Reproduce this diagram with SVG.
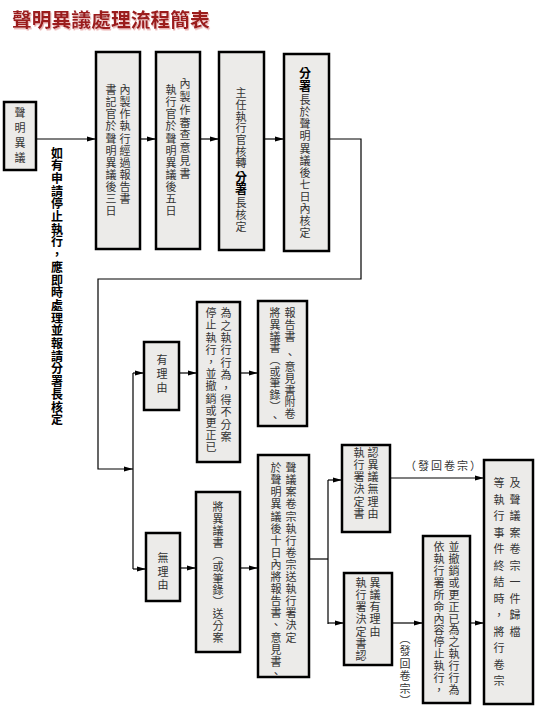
<svg xmlns="http://www.w3.org/2000/svg" width="541" height="714" viewBox="0 0 541 714">
<style>
.box{fill:#ecebe9;stroke:#000;stroke-width:2.5}
.t{font-family:"Noto Sans CJK TC","Noto Sans CJK SC",sans-serif;font-size:11px;fill:#333;writing-mode:vertical-rl;letter-spacing:1.1px}
.b{font-weight:bold;fill:#000}
.ln{fill:none;stroke:#000;stroke-width:1.2}
.h{font-family:"Noto Sans CJK TC","Noto Sans CJK SC",sans-serif;font-size:11px;fill:#333}
</style>
<defs>
<marker id="ar" markerWidth="9" markerHeight="6" refX="9" refY="3" orient="auto" markerUnits="userSpaceOnUse">
<path d="M0,0.5 L9,3 L0,5.5 Z" fill="#000"/>
</marker>
<filter id="sh" x="-5%" y="-20%" width="110%" height="150%">
<feDropShadow dx="1" dy="1.5" stdDeviation="0.4" flood-color="#e9a8a8" flood-opacity="0.9"/>
</filter>
</defs>
<rect width="541" height="714" fill="#fff"/>
<text x="12" y="27" font-family="'Noto Sans CJK TC','Noto Sans CJK SC',sans-serif" font-size="19.8" font-weight="bold" fill="#9b1b1f" filter="url(#sh)">聲明異議處理流程簡表</text>

<g id="connectors">
<line class="ln" x1="36" y1="139" x2="96" y2="139" marker-end="url(#ar)"/>
<line class="ln" x1="140" y1="139" x2="156" y2="139" marker-end="url(#ar)"/>
<line class="ln" x1="200" y1="139" x2="219" y2="139" marker-end="url(#ar)"/>
<line class="ln" x1="264" y1="139" x2="284" y2="139" marker-end="url(#ar)"/>
<polyline class="ln" points="329,139 361,139 361,279 98,279 98,469 133,469" marker-end="url(#ar)"/>
<line class="ln" x1="133" y1="373" x2="133" y2="569"/>
<line class="ln" x1="133" y1="373" x2="144" y2="373" marker-end="url(#ar)"/>
<line class="ln" x1="133" y1="569" x2="146" y2="569" marker-end="url(#ar)"/>
<line class="ln" x1="179" y1="373" x2="197" y2="373" marker-end="url(#ar)"/>
<line class="ln" x1="240" y1="373" x2="258" y2="373" marker-end="url(#ar)"/>
<line class="ln" x1="180" y1="568" x2="196" y2="568" marker-end="url(#ar)"/>
<line class="ln" x1="240" y1="568" x2="258" y2="568" marker-end="url(#ar)"/>
<polyline class="ln" points="309,559 328,559"/>
<line class="ln" x1="328" y1="480" x2="328" y2="624"/>
<line class="ln" x1="328" y1="480" x2="342" y2="480" marker-end="url(#ar)"/>
<line class="ln" x1="328" y1="623" x2="344" y2="623" marker-end="url(#ar)"/>
<line class="ln" x1="390" y1="478" x2="484" y2="478" marker-end="url(#ar)"/>
<line class="ln" x1="392" y1="623" x2="423" y2="623" marker-end="url(#ar)"/>
<line class="ln" x1="470" y1="623" x2="484" y2="623" marker-end="url(#ar)"/>
<text class="h" x="444" y="470" text-anchor="middle" letter-spacing="2">（發回卷宗）</text>
<text class="t" x="405" y="633" style="letter-spacing:1.5px">（發回卷宗）</text>
</g>

<g id="n-start">
<rect class="box" x="4" y="102" width="32" height="68"/>
<text class="t" x="20" y="107.5" style="letter-spacing:4px">聲明異議</text>
</g>
<text class="t b" x="57" y="147 159.7 172.4 185.1 197.8 210.5 223.2 235.9 248.6 261.3 274 286.7 299.4 312.1 324.8 337.5 350.2 362.9 375.6 388.3 401 413.7" style="font-size:12px;letter-spacing:0">如有申請停止執行，應即時處理並報請分署長核定</text>

<g id="n-report">
<rect class="box" x="96" y="52" width="44" height="197"/>
<text class="t" x="125" y="84.5">內製作執行經過報告書</text>
<text class="t" x="111" y="84.5">書記官於聲明異議後三日</text>
</g>
<g id="n-opinion">
<rect class="box" x="156" y="52" width="44" height="197"/>
<text class="t" x="185" y="78.5" style="letter-spacing:1.8px">內製作審查意見書</text>
<text class="t" x="171" y="84.5">執行官於聲明異議後五日</text>
</g>
<g id="n-chief">
<rect class="box" x="219" y="52" width="45" height="198"/>
<text class="t" x="241" y="87.5" style="letter-spacing:0.7px">主任執行官核轉</text>
<text class="t b" x="241" y="171" style="font-size:12px;letter-spacing:0">分署</text>
<text class="t" x="241" y="197.5">長核定</text>
</g>
<g id="n-director">
<rect class="box" x="284" y="54" width="45" height="197"/>
<text class="t b" x="305" y="67" style="font-size:12px;letter-spacing:1px">分署</text>
<text class="t" x="305" y="94.5">長於聲明異議後七日內核定</text>
</g>

<g id="n-yes">
<rect class="box" x="144" y="342" width="35" height="68"/>
<text class="t" x="162" y="354.5" style="letter-spacing:3px">有理由</text>
</g>
<g id="n-revoke">
<rect class="box" x="197" y="302" width="43" height="160"/>
<text class="t" x="226" y="307.5" style="letter-spacing:1.4px">為之執行行為，得不分案</text>
<text class="t" x="211" y="307.5" style="letter-spacing:1.2px">停止執行，並撤銷或更正已</text>
</g>
<g id="n-attach">
<rect class="box" x="258" y="301" width="49" height="125"/>
<text class="t" x="290" y="307.5">報告書</text>
<text class="t" x="290" y="349.5" style="letter-spacing:0.8px">、意見書附卷</text>
<text class="t" x="275" y="307.5" style="letter-spacing:0.7px">將異議書（或筆錄）、</text>
</g>

<g id="n-no">
<rect class="box" x="146" y="533" width="34" height="68"/>
<text class="t" x="163" y="552.5" style="letter-spacing:2.5px">無理由</text>
</g>
<g id="n-send">
<rect class="box" x="196" y="492" width="44" height="160"/>
<text class="t" x="218" y="501.5" style="letter-spacing:0.9px">將異議書（或筆錄）送分案</text>
</g>
<g id="n-file">
<rect class="box" x="258" y="455" width="51" height="222"/>
<text class="t" x="291" y="462.5">聲議案卷宗執行卷宗送執行署決定</text>
<text class="t" x="276" y="462.5">於聲明異議後十日內將報告書、意見書、</text>
</g>
<g id="n-reject">
<rect class="box" x="342" y="445" width="48" height="87"/>
<text class="t" x="373" y="447.5">認異議無理由</text>
<text class="t" x="359" y="447.5">執行署決定書</text>
</g>
<g id="n-accept">
<rect class="box" x="344" y="573" width="48" height="92"/>
<text class="t" x="375" y="577.5">異議有理由</text>
<text class="t" x="361" y="577.5">執行署決定書認</text>
</g>
<g id="n-cancel">
<rect class="box" x="423" y="536" width="47" height="167"/>
<text class="t" x="454" y="541.5" style="letter-spacing:0.9px">並撤銷或更正已為之執行行為</text>
<text class="t" x="439" y="541.5" style="letter-spacing:0.9px">依執行署所命內容停止執行，</text>
</g>
<g id="n-archive">
<rect class="box" x="484" y="460" width="49" height="244"/>
<text class="t" x="515" y="477.5 494 510.5 527 543.5 560 576.5 593 609.5 626" style="letter-spacing:0">及聲議案卷宗一件歸檔</text>
<text class="t" x="499" y="477.5 494 510.5 527 543.5 560 576.5 593 609.5 626 642.5 659 675.5" style="letter-spacing:0">等執行事件終結時，將行卷宗</text>
</g>
</svg>
